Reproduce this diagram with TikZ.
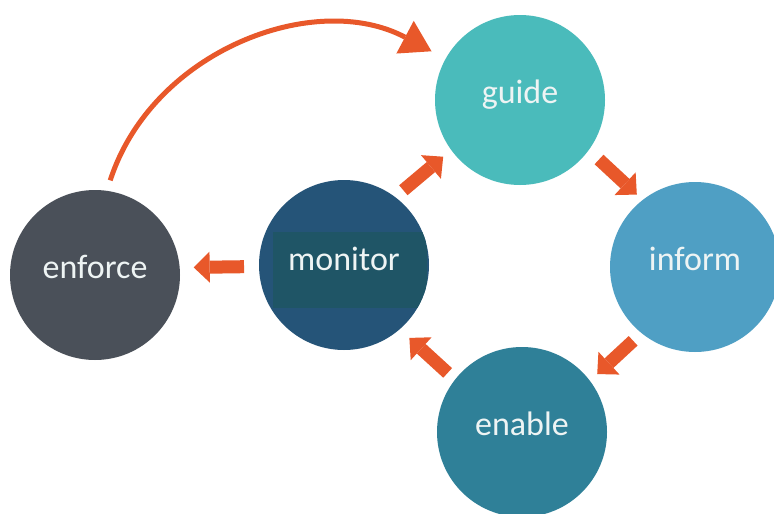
\documentclass[tikz,border=0pt]{standalone}
\usepackage{fontspec}
\setmainfont{Carlito}
\usetikzlibrary{arrows.meta}
\definecolor{cguide}{HTML}{4ABBBB}
\definecolor{cinform}{HTML}{4F9FC4}
\definecolor{cenable}{HTML}{2F8098}
\definecolor{cmonitor}{HTML}{255478}
\definecolor{cmonbox}{HTML}{1F5566}
\definecolor{cenforce}{HTML}{4A5059}
\definecolor{corange}{HTML}{E8582A}
\definecolor{ctext}{HTML}{EEF4F4}
\begin{document}
\begin{tikzpicture}[x=1pt,y=1pt,
  stage/.style={circle, minimum size=170pt, inner sep=0pt, outer sep=0pt, text=ctext,
     font=\fontsize{34}{40}\selectfont, text height=7pt, text depth=0pt},
  blockarrow/.style={draw=corange, line width=13pt, -{Triangle[length=16pt,width=31pt,line width=0pt]}},
  curvearrow/.style={draw=corange, line width=5pt, -{Triangle[length=30pt,width=37pt,line width=0pt]}}
]
\useasboundingbox (0,0) rectangle (774,-514);
\fill[white] (0,0) rectangle (774,-514);
\node[stage, fill=cguide] (guide) at (520,-100) {guide};
\node[stage, fill=cinform] (inform) at (695,-267) {inform};
\node[stage, fill=cenable] (enable) at (522,-432) {enable};
\node[stage, fill=cmonitor, text height=10pt,
  path picture={\fill[cmonbox] (path picture bounding box.center) ++(-71,33) rectangle ++(154,-76);}]
  (monitor) at (344,-265) {monitor};
\node[stage, fill=cenforce] (enforce) at (95,-275) {enforce};
\draw[curvearrow, shorten <=11pt, shorten >=16pt] (enforce.82) to[out=72, in=152, looseness=1.04] (guide.151);
\draw[blockarrow, shorten <=10.7pt, shorten >=10.5pt] (monitor.53) -- (guide.216);
\draw[blockarrow, shorten <=14pt, shorten >=8pt] (guide.-36) -- (inform.128);
\draw[blockarrow, shorten <=11.4pt, shorten >=10pt] (inform.231) -- (enable.37);
\draw[blockarrow, shorten <=10pt, shorten >=13pt] (enable.142) -- (monitor.-49);
\draw[blockarrow, shorten <=15pt, shorten >=14pt] (monitor.181) -- (enforce.5);
\end{tikzpicture}
\end{document}
